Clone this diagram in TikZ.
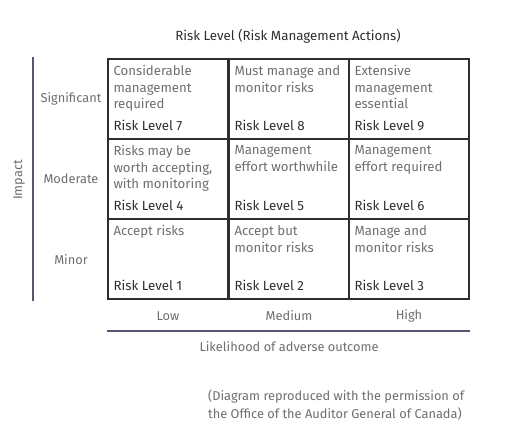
\documentclass[tikz,border=0pt]{standalone}
\usepackage{fontspec}
\setmainfont{Fira Sans}
\definecolor{txtgray}{HTML}{6E6E6E}
\definecolor{lvldark}{HTML}{2E2E2E}
\definecolor{axisnavy}{HTML}{55576E}
\tikzset{
  cell/.style={draw=lvldark,line width=1.4pt,minimum width=120pt,minimum height=80pt,inner sep=0pt},
  desc/.style={anchor=north west,align=left,text=txtgray,font=\fontsize{13.2}{16.6}\selectfont,inner sep=0pt},
  level/.style={anchor=south west,text=lvldark,font=\fontsize{13.3}{15}\selectfont,inner sep=0pt},
  axislbl/.style={text=txtgray,font=\fontsize{12.8}{15}\selectfont,inner sep=0pt}
}
\begin{document}
\begin{tikzpicture}[x=1pt,y=-1pt]
                         \useasboundingbox (0,0) rectangle (513,447);
                         \node[text=lvldark,font=\fontsize{13.3}{15}\selectfont] (title) at (288,36) {Risk Level (Risk Management Actions)};
                         % grid of cells
                         \foreach \r/\y in {1/99,2/179,3/259}
                           \foreach \c/\x in {1/168,2/289,3/409}
                             \node[cell] (c\r\c) at (\x,\y) {};
                         \node[desc] (d11) at ([shift={(6,7)}]c11.north west) {Considerable\\management\\required};
                         \node[desc] (d12) at ([shift={(6,7)}]c12.north west) {Must manage and\\monitor risks};
                         \node[desc] (d13) at ([shift={(6,7)}]c13.north west) {Extensive\\management\\essential};
                         \node[desc] (d21) at ([shift={(6,7)}]c21.north west) {Risks may be\\worth accepting,\\with monitoring};
                         \node[desc] (d22) at ([shift={(6,7)}]c22.north west) {Management\\effort worthwhile};
                         \node[desc] (d23) at ([shift={(6,7)}]c23.north west) {Management\\effort required};
                         \node[desc] (d31) at ([shift={(6,7)}]c31.north west) {Accept risks};
                         \node[desc] (d32) at ([shift={(6,7)}]c32.north west) {Accept but\\monitor risks};
                         \node[desc] (d33) at ([shift={(6,7)}]c33.north west) {Manage and\\monitor risks};
                         \node[level] (l11) at ([shift={(6,-9)}]c11.south west) {Risk Level 7};
                         \node[level] (l12) at ([shift={(6,-9)}]c12.south west) {Risk Level 8};
                         \node[level] (l13) at ([shift={(6,-9)}]c13.south west) {Risk Level 9};
                         \node[level] (l21) at ([shift={(6,-9)}]c21.south west) {Risk Level 4};
                         \node[level] (l22) at ([shift={(6,-9)}]c22.south west) {Risk Level 5};
                         \node[level] (l23) at ([shift={(6,-9)}]c23.south west) {Risk Level 6};
                         \node[level] (l31) at ([shift={(6,-9)}]c31.south west) {Risk Level 1};
                         \node[level] (l32) at ([shift={(6,-9)}]c32.south west) {Risk Level 2};
                         \node[level] (l33) at ([shift={(6,-9)}]c33.south west) {Risk Level 3};
                         % impact axis
                         \node[axislbl] (sig) at (71,99) {Significant};
                         \node[axislbl] (mod) at (71,179) {Moderate};
                         \node[axislbl] (min) at (71,260) {Minor};
                         \coordinate (itop) at (33,57);
                         \coordinate (ibot) at (33,301);
                         \draw[axisnavy,line width=1.3pt] (itop) -- (ibot);
                         \node[axislbl,rotate=90] (impact) at (19,180) {Impact};
                         % likelihood axis
                         \node[axislbl] (low) at (c31.south |- 0,316) {Low};
                         \node[axislbl] (med) at (c32.south |- 0,316) {Medium};
                         \node[axislbl] (high) at (c33.south |- 0,316) {High};
                         \coordinate (lleft) at (107,331);
                         \coordinate (lright) at (470,331);
                         \draw[axisnavy,line width=1.3pt] (lleft) -- (lright);
                         \node[axislbl] (likely) at (289,347) {Likelihood of adverse outcome};
                         \node[axislbl,anchor=north west,align=left,font=\fontsize{12.8}{18}\selectfont] (note) at (208,389) {(Diagram reproduced with the permission of\\the Office of the Auditor General of Canada)};
                     \end{tikzpicture}
\end{document}
